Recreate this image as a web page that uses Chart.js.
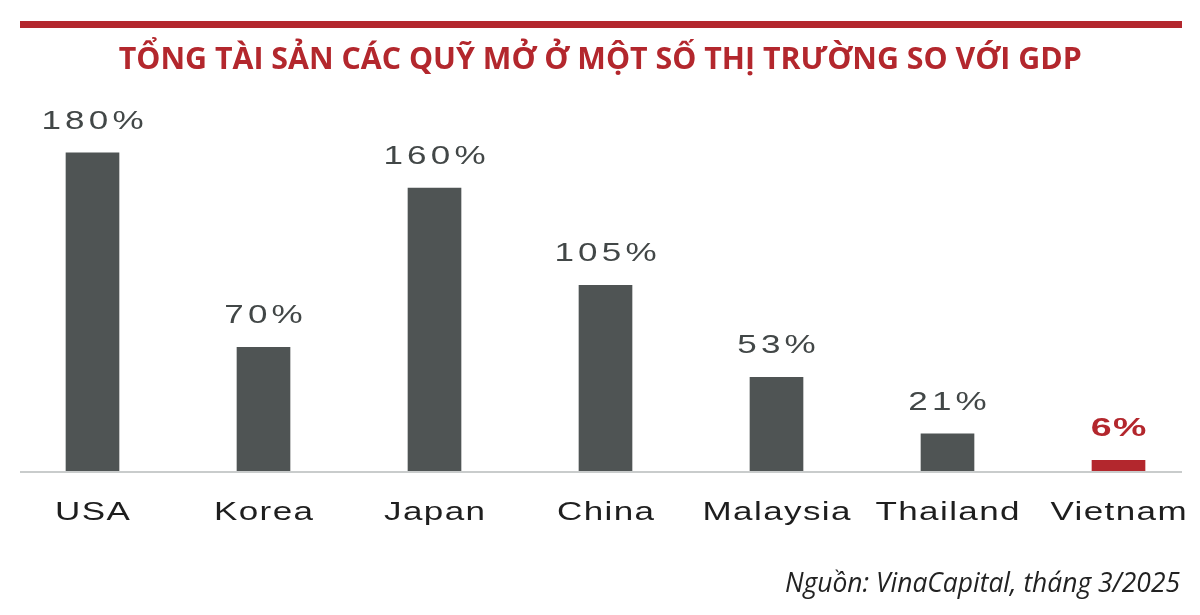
<!DOCTYPE html>
<html>
<head>
<meta charset="utf-8">
<script src="https://cdn.jsdelivr.net/npm/chart.js@4.4.1/dist/chart.umd.min.js"></script>
<style>
  html, body { margin:0; padding:0; width:1200px; height:615px; overflow:hidden; background:#fff; }
  #wrap { position:relative; width:1200px; height:615px; overflow:hidden; }
  #topline { position:absolute; left:20px; top:21px; width:1162px; height:7px; background:#b3272d; z-index:2; }
  #title { position:absolute; left:0; top:37px; width:1200px; text-align:center; z-index:2; }
  #title span { display:inline-block; font-family:"Open Sans", sans-serif; font-weight:700; font-size:30px; color:#b3272d; white-space:nowrap; transform-origin:center; }
  #source { position:absolute; right:20px; top:563px; z-index:2; }
  #source span { display:inline-block; font-family:"Open Sans", sans-serif; font-style:italic; font-size:27px; color:#222; white-space:nowrap; transform-origin:right center; }
  canvas { position:absolute; left:0; top:0; }
</style>
</head>
<body>
<div id="wrap">
  <div id="topline"></div>
  <div id="title"><span id="titleText">TỔNG TÀI SẢN CÁC QUỸ MỞ Ở MỘT SỐ THỊ TRƯỜNG SO VỚI GDP</span></div>
  <div id="source"><span id="sourceText">Nguồn: VinaCapital, tháng 3/2025</span></div>
  <canvas id="c" width="1215" height="615"></canvas>
</div>
<script>
const categories = ['USA', 'Korea', 'Japan', 'China', 'Malaysia', 'Thailand', 'Vietnam'];
const values = [180, 70, 160, 105, 53, 21, 6];
const valueLabels = ['180%', '70%', '160%', '105%', '53%', '21%', '6%'];
const highlightCategory = 'Vietnam';

const RED = '#b3272d';
const GRAY = '#4f5454';
const hi = categories.indexOf(highlightCategory);

function fitWidth(id, target) {
  const el = document.getElementById(id);
  const w = el.getBoundingClientRect().width;
  el.style.transform = 'scaleX(' + (target / w) + ')';
}
fitWidth('titleText', 963);
fitWidth('sourceText', 395);

function stretchedText(ctx, text, x, y, font, color, sx, spacing) {
  ctx.save();
  ctx.font = font;
  ctx.fillStyle = color;
  ctx.letterSpacing = spacing + 'px';
  ctx.textAlign = 'left';
  ctx.textBaseline = 'alphabetic';
  const w = ctx.measureText(text).width - spacing;
  ctx.translate(x, y);
  ctx.scale(sx, 1);
  ctx.fillText(text, -w / 2, 0);
  ctx.restore();
}

const labelPlugin = {
  id: 'labelPlugin',
  beforeDatasetsDraw(chart) {
    const ctx = chart.ctx;
    const y0 = chart.scales.y.getPixelForValue(0);
    ctx.save();
    ctx.strokeStyle = '#c9cccc';
    ctx.lineWidth = 2;
    ctx.beginPath();
    ctx.moveTo(20, y0 + 1);
    ctx.lineTo(1182, y0 + 1);
    ctx.stroke();
    ctx.restore();
  },
  afterDatasetsDraw(chart) {
    const ctx = chart.ctx;
    const meta = chart.getDatasetMeta(0);
    const y0 = chart.scales.y.getPixelForValue(0);
    meta.data.forEach((bar, i) => {
      const isHi = i === hi;
      stretchedText(ctx, valueLabels[i], bar.x, bar.y - 24,
        (isHi ? 'bold ' : '') + '25px "Liberation Sans", Arial, sans-serif',
        isHi ? RED : '#424747', isHi ? 1.5 : 1.4, isHi ? 1 : 3);
      stretchedText(ctx, categories[i], bar.x, y0 + 49,
        '25px "Liberation Sans", Arial, sans-serif', '#1e1e1e', 1.4, 1);
    });
  }
};

new Chart(document.getElementById('c'), {
  type: 'bar',
  data: {
    labels: categories,
    datasets: [{
      data: values,
      backgroundColor: categories.map((c, i) => i === hi ? RED : GRAY),
      barThickness: 53,
      borderWidth: 0
    }]
  },
  options: {
    responsive: false,
    animation: false,
    devicePixelRatio: 1,
    layout: { padding: { left: 7, right: 11, top: 82, bottom: 144 } },
    plugins: { legend: { display: false }, tooltip: { enabled: false }, title: { display: false } },
    scales: {
      x: { display: false, offset: true, grid: { display: false } },
      y: { display: false, min: 0, max: 220, grid: { display: false } }
    }
  },
  plugins: [labelPlugin]
});
</script>
</body>
</html>
